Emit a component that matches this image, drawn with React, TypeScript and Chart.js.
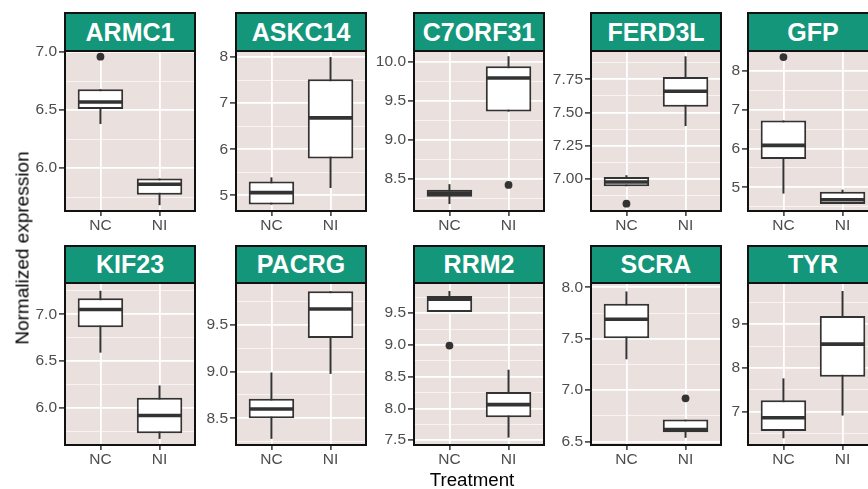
import React, { useEffect, useRef } from "react";
import { Chart, registerables } from "chart.js";

Chart.register(...registerables);

const FONT = "'Liberation Sans', Arial, Helvetica, sans-serif";

// ---------------- data ----------------
const genes = ["ARMC1", "ASKC14", "C7ORF31", "FERD3L", "GFP", "KIF23", "PACRG", "RRM2", "SCRA", "TYR"];
const treatments = ["NC", "NI"];

// [lower whisker, Q1, median, Q3, upper whisker]
const ncBox = [
  [6.38, 6.51, 6.57, 6.68, 6.68],
  [4.8, 4.8, 5.06, 5.3, 5.39],
  [8.175, 8.27, 8.315, 8.36, 8.43],
  [6.945, 6.945, 6.977, 7.015, 7.028],
  [4.84, 5.73, 6.08, 6.72, 6.72],
  [6.59, 6.86, 7.05, 7.17, 7.25],
  [8.28, 8.5, 8.6, 8.71, 8.99],
  [9.52, 9.52, 9.72, 9.77, 9.85],
  [7.3, 7.505, 7.69, 7.84, 7.96],
  [6.39, 6.555, 6.86, 7.26, 7.76],
];
const niBox = [
  [5.68, 5.77, 5.86, 5.91, 5.91],
  [5.16, 5.8, 6.68, 7.52, 8.0],
  [9.36, 9.36, 9.79, 9.94, 10.07],
  [7.398, 7.543, 7.66, 7.768, 7.923],
  [4.57, 4.57, 4.68, 4.89, 4.94],
  [5.67, 5.73, 5.92, 6.11, 6.24],
  [8.975, 9.36, 9.67, 9.86, 9.86],
  [7.54, 7.86, 8.06, 8.26, 8.61],
  [6.536, 6.59, 6.616, 6.713, 6.713],
  [6.91, 7.795, 8.544, 9.19, 9.76],
];
const ncOutliers = [[6.96], [], [], [6.814], [8.35], [], [], [8.99], [], []];
const niOutliers = [[], [], [8.42], [], [], [], [], [], [6.92], []];

const yMin = [5.63, 4.661, 8.086, 6.759, 4.392, 5.605, 8.214, 7.424, 6.466, 6.236];
const yMax = [7.009, 8.131, 10.137, 7.963, 8.507, 7.333, 9.948, 9.976, 8.042, 9.943];
const yBreaks = [
  [6.0, 6.5, 7.0],
  [5, 6, 7, 8],
  [8.5, 9.0, 9.5, 10.0],
  [7.0, 7.25, 7.5, 7.75],
  [5, 6, 7, 8],
  [6.0, 6.5, 7.0],
  [8.5, 9.0, 9.5],
  [7.5, 8.0, 8.5, 9.0, 9.5],
  [6.5, 7.0, 7.5, 8.0],
  [7, 8, 9],
];
const yMinorBreaks = [
  [5.75, 6.25, 6.75],
  [5.5, 6.5, 7.5],
  [8.25, 8.75, 9.25, 9.75],
  [6.875, 7.125, 7.375, 7.625, 7.875],
  [4.5, 5.5, 6.5, 7.5],
  [5.75, 6.25, 6.75, 7.25],
  [8.25, 8.75, 9.25, 9.75],
  [7.75, 8.25, 8.75, 9.25, 9.75],
  [6.75, 7.25, 7.75],
  [6.5, 7.5, 8.5, 9.5],
];
const yDigits = [1, 0, 1, 2, 0, 1, 1, 1, 1, 0];

// ---------------- layout ----------------
const colLeft = [65, 236, 414, 591, 748];
const panelW = 130;
const rowTop = [51, 283];
const rowH = [160, 162];
const stripTop = [12, 245];

const PADL = 60;
const PADT = 15;
const PADR = 8;
const PADB = 30;

const BG = "#EAE0DE";
const STRIP = "#14967A";
const INK = "#333333";

const framePlugin = {
  id: "panelFrame",
  beforeDraw(chart: any) {
    const { ctx, chartArea: a } = chart;
    ctx.save();
    ctx.fillStyle = BG;
    ctx.fillRect(a.left, a.top, a.right - a.left, a.bottom - a.top);
    ctx.restore();
  },
  afterDraw(chart: any) {
    const { ctx, chartArea: a } = chart;
    ctx.save();
    ctx.strokeStyle = "#111";
    ctx.lineWidth = 2;
    ctx.strokeRect(a.left, a.top, a.right - a.left, a.bottom - a.top);
    ctx.restore();
  },
};

function Panel({ gi, left, top, width, height }: any) {
  const ref = useRef<HTMLCanvasElement>(null);
  useEffect(() => {
    const boxes = [ncBox[gi], niBox[gi]];
    const outs = [
      ...ncOutliers[gi].map((v) => ({ x: 1, y: v })),
      ...niOutliers[gi].map((v) => ({ x: 2, y: v })),
    ];
    const half = 0.375;
    const datasets: any[] = [
      {
        type: "scatter",
        data: outs,
        pointRadius: 3.9,
        pointBackgroundColor: INK,
        pointBorderWidth: 0,
        order: 0,
      },
      ...boxes.map((b, i) => ({
        type: "line",
        data: [
          { x: i + 1 - half, y: b[2] },
          { x: i + 1 + half, y: b[2] },
        ],
        borderColor: INK,
        borderWidth: 3.6,
        pointRadius: 0,
        borderCapStyle: "butt",
        order: 1,
      })),
      {
        type: "bar",
        data: boxes.map((b, i) => ({ x: i + 1, y: [b[1], b[3]] })),
        backgroundColor: "#ffffff",
        borderColor: INK,
        borderWidth: 2,
        borderSkipped: false,
        barPercentage: 0.77,
        categoryPercentage: 1,
        order: 2,
      },
      ...boxes.map((b, i) => ({
        type: "line",
        data: [
          { x: i + 1, y: b[0] },
          { x: i + 1, y: b[4] },
        ],
        borderColor: INK,
        borderWidth: 2,
        pointRadius: 0,
        order: 3,
      })),
    ];

    const majors = yBreaks[gi];
    const minors = yMinorBreaks[gi];
    const yTicks = [
      ...majors.map((v) => ({ value: v, mj: true })),
      ...minors.map((v) => ({ value: v, mj: false })),
    ].sort((a, b) => a.value - b.value);

    const chart = new Chart(ref.current as HTMLCanvasElement, {
      type: "bar",
      data: { datasets },
      options: {
        animation: false,
        responsive: false,
        maintainAspectRatio: false,
        layout: { padding: { top: PADT, right: PADR, left: 0, bottom: 0 } },
        plugins: { legend: { display: false }, tooltip: { enabled: false } },
        scales: {
          x: {
            type: "linear",
            min: 0.4,
            max: 2.6,
            offset: false,
            bounds: "data",
            afterBuildTicks: (s: any) => {
              s.ticks = [{ value: 1 }, { value: 2 }];
            },
            afterFit: (s: any) => {
              s.height = PADB;
            },
            ticks: {
              autoSkip: false,
              maxRotation: 0,
              padding: 0,
              color: "#4D4D4D",
              font: { family: FONT, size: 15.5 },
              callback: (v: any) => treatments[Math.round(v) - 1],
            },
            grid: {
              color: "#ffffff",
              lineWidth: 1.8,
              tickColor: INK,
              tickWidth: 1.5,
              tickLength: 5,
              offset: false,
            },
            border: { display: false },
          },
          y: {
            type: "linear",
            min: yMin[gi],
            max: yMax[gi],
            bounds: "data",
            afterBuildTicks: (s: any) => {
              s.ticks = yTicks.map((t) => ({ ...t }));
            },
            afterFit: (s: any) => {
              s.width = PADL;
            },
            ticks: {
              autoSkip: false,
              padding: 2,
              color: "#4D4D4D",
              font: { family: FONT, size: 15.5 },
              callback: (v: any, i: number, ticks: any[]) =>
                ticks[i] && ticks[i].mj ? Number(v).toFixed(yDigits[gi]) : "",
            },
            grid: {
              color: (c: any) => (c.tick && !c.tick.mj ? "rgba(255,255,255,0.8)" : "#ffffff"),
              lineWidth: (c: any) => (c.tick && !c.tick.mj ? 0.8 : 1.8),
              tickColor: (c: any) => (c.tick && !c.tick.mj ? "rgba(0,0,0,0)" : INK),
              tickWidth: 1.5,
              tickLength: 6,
            },
            border: { display: false },
          },
        },
      } as any,
      plugins: [framePlugin],
    });
    return () => chart.destroy();
  }, [gi]);

  return (
    <canvas
      ref={ref}
      width={width + PADL + PADR}
      height={height + PADT + PADB}
      style={{ position: "absolute", left: left - PADL, top: top - PADT, display: "block" }}
    />
  );
}

export default function App() {
  return (
    <div
      style={{
        position: "fixed",
        left: 0,
        top: 0,
        width: 868,
        height: 489,
        overflow: "hidden",
        background: "#ffffff",
        fontFamily: FONT,
      }}
    >
      {genes.map((g, gi) => {
        const r = Math.floor(gi / 5);
        const c = gi % 5;
        const left = colLeft[c];
        const top = rowTop[r];
        const height = rowH[r];
        return (
          <React.Fragment key={g}>
            <Panel gi={gi} left={left} top={top} width={panelW} height={height} />
            <div
              style={{
                position: "absolute",
                left: left - 1,
                top: stripTop[r],
                width: panelW + 2,
                height: top - stripTop[r] + 1,
                background: STRIP,
                border: "2px solid #111",
                boxSizing: "border-box",
                color: "#ffffff",
                fontWeight: "bold",
                fontSize: 25,
                display: "flex",
                alignItems: "center",
                justifyContent: "center",
                lineHeight: 1,
              }}
            >
              {g}
            </div>
          </React.Fragment>
        );
      })}
      <div
        style={{
          position: "absolute",
          left: 22,
          top: 248,
          transform: "translate(-50%, -50%) rotate(-90deg)",
          whiteSpace: "nowrap",
          fontSize: 19,
          lineHeight: 1,
          color: "#000",
        }}
      >
        Normalized expression
      </div>
      <div
        style={{
          position: "absolute",
          left: 472,
          top: 480,
          transform: "translate(-50%, -50%)",
          whiteSpace: "nowrap",
          fontSize: 18.7,
          lineHeight: 1,
          color: "#000",
        }}
      >
        Treatment
      </div>
    </div>
  );
}
